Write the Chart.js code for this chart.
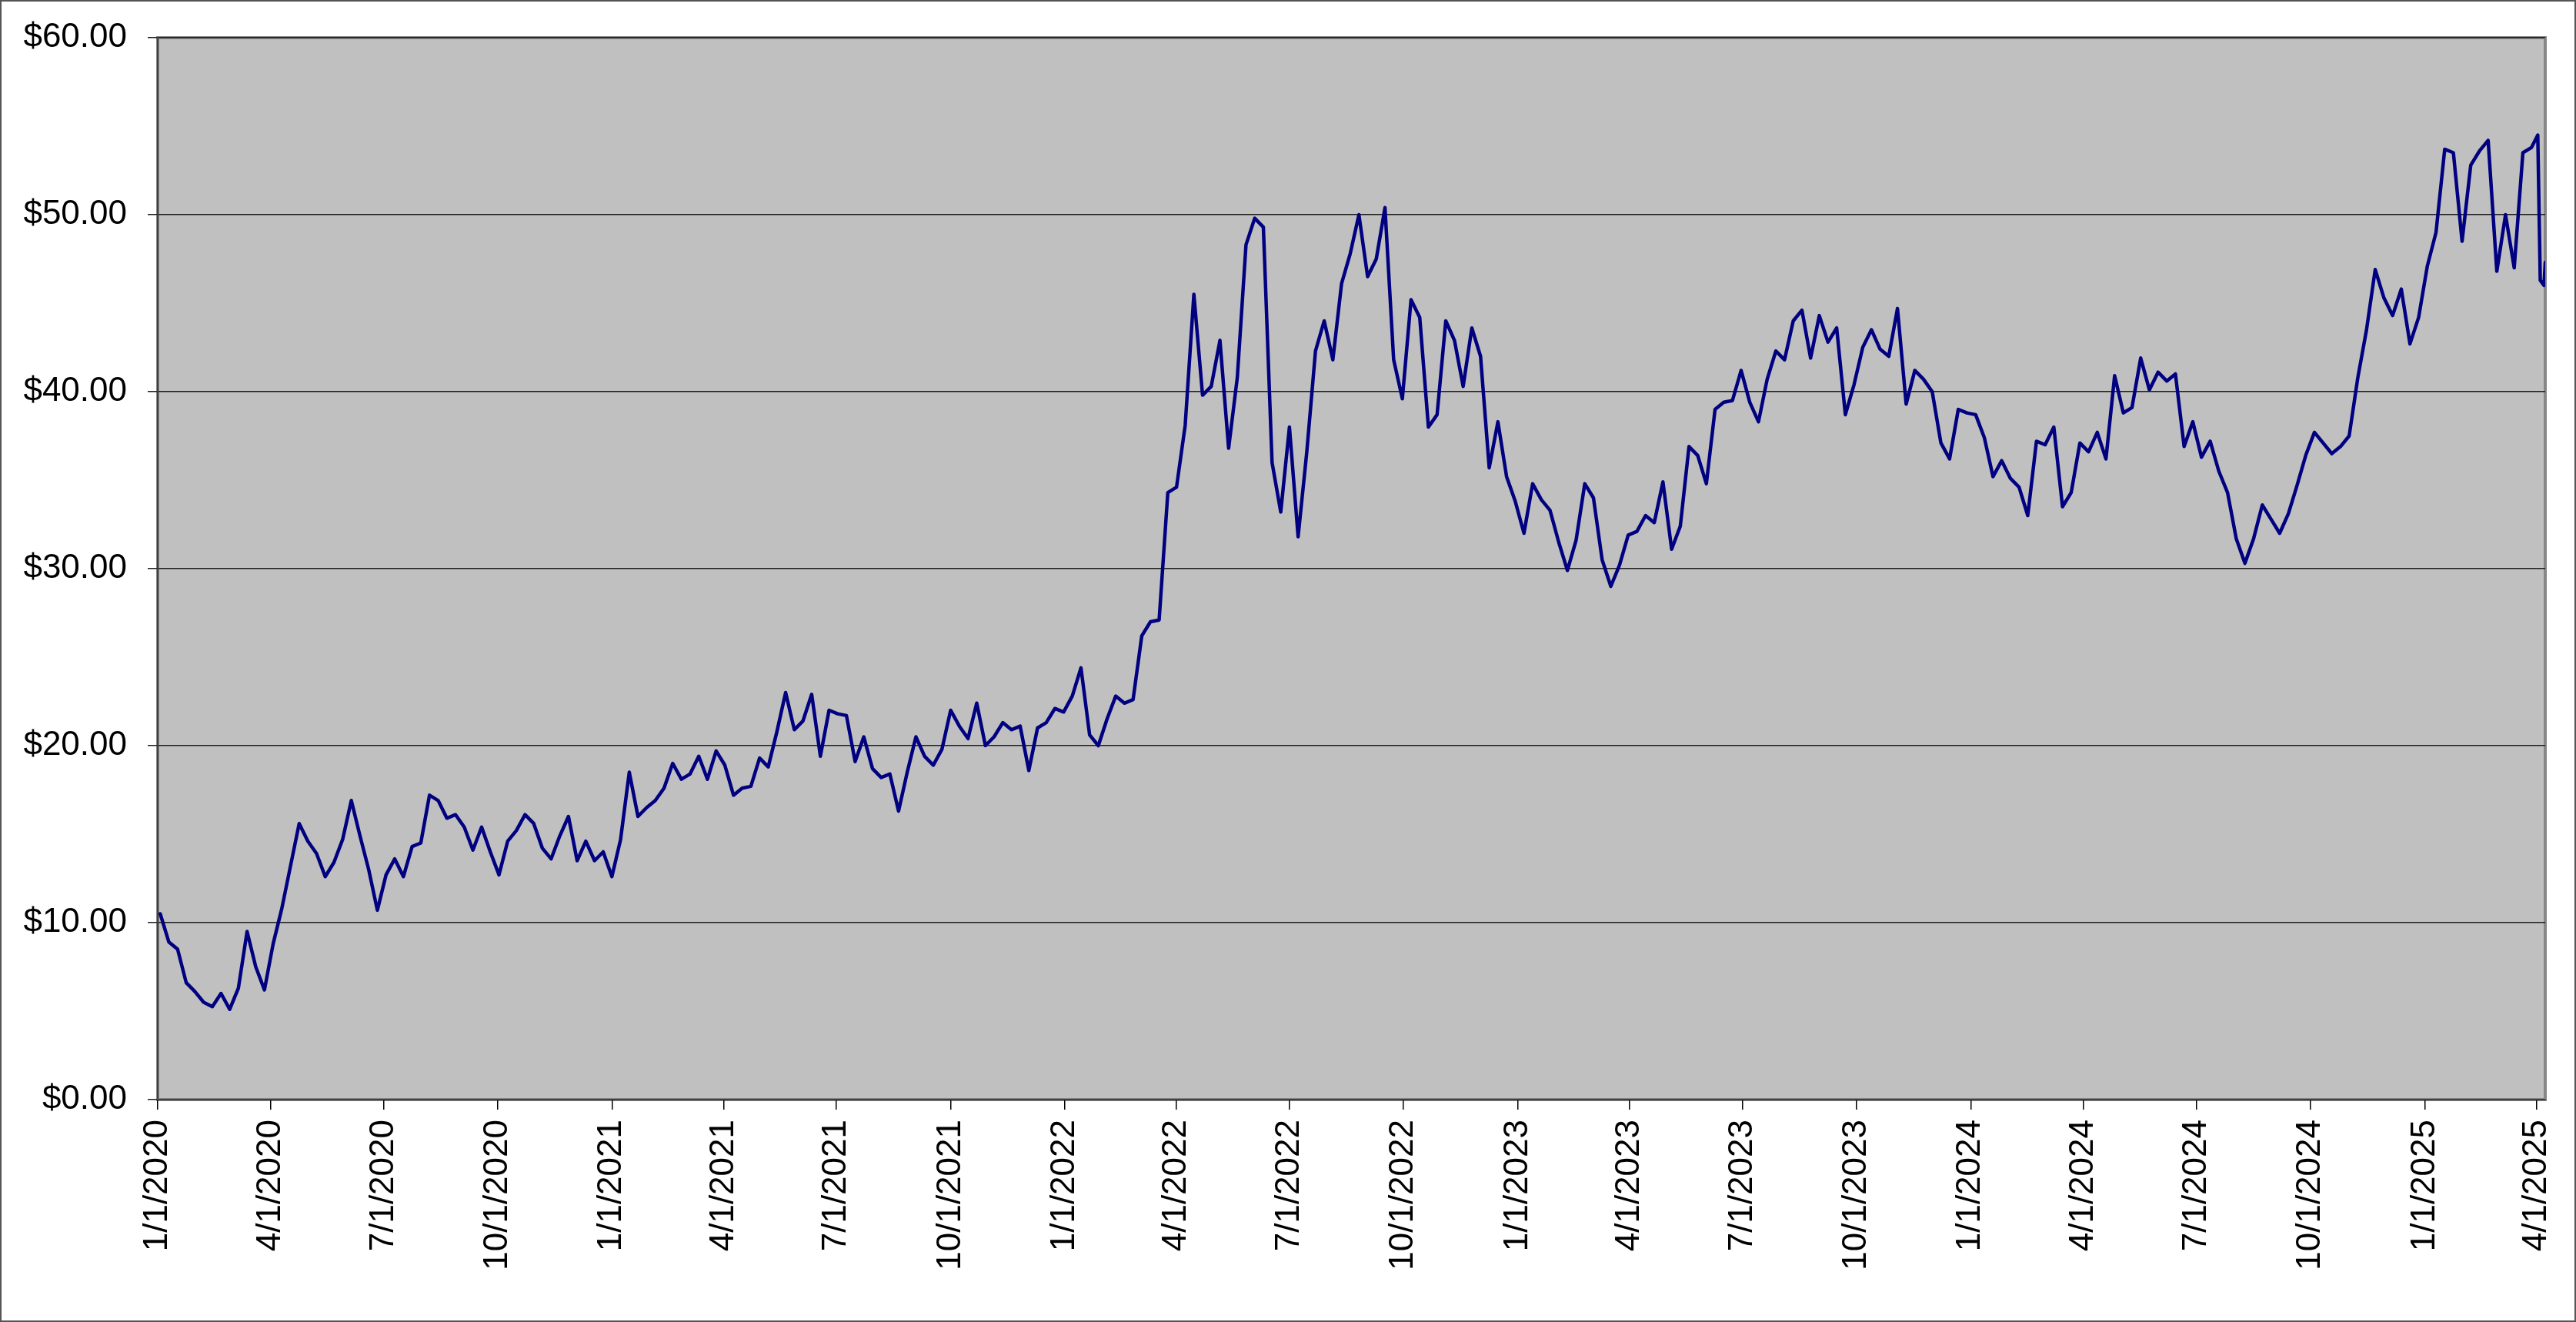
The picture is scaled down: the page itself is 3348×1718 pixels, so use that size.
<!DOCTYPE html>
<html lang="en">
<head>
<meta charset="UTF-8">
<title>Price history 2020-2025</title>
<script src="https://cdn.jsdelivr.net/npm/chart.js"></script>
<style>
  html, body { margin: 0; padding: 0; background: #fff; }
  #wrap { position: relative; width: 3348px; height: 1718px; }
</style>
</head>
<body>
<div id="wrap"><canvas id="priceChart"></canvas></div>
<script>
// weekly closes (one per Friday, first one on 1/3/2020)
const firstFriday = '2020-01-03';

const closes2020 = [10.5, 8.9, 8.5, 6.6, 6.1, 5.5, 5.25, 6.0, 5.1, 6.3,
  9.5, 7.5, 6.2, 8.8, 10.8, 13.2, 15.6, 14.6, 13.9, 12.6,
  13.4, 14.7, 16.9, 14.9, 13.0, 10.7, 12.7, 13.6, 12.6, 14.3,
  14.5, 17.2, 16.9, 15.9, 16.1, 15.4, 14.1, 15.4, 14.0, 12.7,
  14.6, 15.2, 16.1, 15.6, 14.2, 13.6, 14.9, 16.0, 13.5, 14.6,
  13.5, 14.0];

const closes2021 = [12.6, 14.7, 18.5, 16.0, 16.5, 16.9, 17.6, 19.0, 18.1, 18.4,
  19.4, 18.1, 19.7, 18.9, 17.2, 17.6, 17.7, 19.3, 18.8, 20.8,
  23.0, 20.9, 21.4, 22.9, 19.4, 22.0, 21.8, 21.7, 19.1, 20.5,
  18.7, 18.2, 18.4, 16.3, 18.5, 20.5, 19.4, 18.9, 19.8, 22.0,
  21.1, 20.4, 22.4, 20.0, 20.5, 21.3, 20.9, 21.1, 18.6, 21.0,
  21.3, 22.1, 21.9];

const closes2022 = [22.8, 24.4, 20.6, 20.0, 21.5, 22.8, 22.4, 22.6, 26.2, 27.0,
  27.1, 34.3, 34.6, 38.1, 45.5, 39.8, 40.3, 42.9, 36.8, 40.8,
  48.3, 49.8, 49.3, 36.0, 33.2, 38.0, 31.8, 36.6, 42.3, 44.0,
  41.8, 46.1, 47.8, 50.0, 46.5, 47.5, 50.4, 41.8, 39.6, 45.2,
  44.2, 38.0, 38.7, 44.0, 42.9, 40.3, 43.6, 42.0, 35.7, 38.3,
  35.2, 33.8];

const closes2023 = [32.0, 34.8, 33.9, 33.3, 31.5, 29.9, 31.6, 34.8, 34.0, 30.5,
  29.0, 30.2, 31.9, 32.1, 33.0, 32.6, 34.9, 31.1, 32.4, 36.9,
  36.4, 34.8, 39.0, 39.4, 39.5, 41.2, 39.4, 38.3, 40.7, 42.3,
  41.8, 44.0, 44.6, 41.9, 44.3, 42.8, 43.6, 38.7, 40.4, 42.5,
  43.5, 42.4, 42.0, 44.7, 39.3, 41.2, 40.7, 40.0, 37.1, 36.2,
  39.0, 38.8];

const closes2024 = [38.7, 37.4, 35.2, 36.1, 35.1, 34.6, 33.0, 37.2, 37.0, 38.0,
  33.5, 34.3, 37.1, 36.6, 37.7, 36.2, 40.9, 38.8, 39.1, 41.9,
  40.1, 41.1, 40.6, 41.0, 36.9, 38.3, 36.3, 37.2, 35.5, 34.3,
  31.7, 30.3, 31.7, 33.6, 32.8, 32.0, 33.1, 34.7, 36.4, 37.7,
  37.1, 36.5, 36.9, 37.5, 40.8, 43.5, 46.9, 45.3, 44.3, 45.8,
  42.7, 44.2];

const closes2025 = [47.1, 49.0, 53.7, 53.5, 48.5, 52.8, 53.6, 54.2, 46.8, 50.0,
  47.0, 53.5, 53.8];

// last few sessions, read day by day
const lastDays = ['2025-04-02', '2025-04-04', '2025-04-07', '2025-04-08'];
const lastCloses = [54.5, 46.3, 46.0, 47.3];

const quarterLabels = ['1/1/2020', '4/1/2020', '7/1/2020', '10/1/2020',
  '1/1/2021', '4/1/2021', '7/1/2021', '10/1/2021',
  '1/1/2022', '4/1/2022', '7/1/2022', '10/1/2022',
  '1/1/2023', '4/1/2023', '7/1/2023', '10/1/2023',
  '1/1/2024', '4/1/2024', '7/1/2024', '10/1/2024',
  '1/1/2025', '4/1/2025'];
const priceTicks = [0, 10, 20, 30, 40, 50, 60];

const DAY = 86400000;
function mdyToTime(s) {
  const [m, d, y] = s.split('/').map(Number);
  return Date.UTC(y, m - 1, d);
}

// build the points
const weekly = [].concat(closes2020, closes2021, closes2022, closes2023, closes2024, closes2025);
const start = Date.parse(firstFriday);
const points = weekly.map((v, i) => ({ x: start + i * 7 * DAY, y: v }));
lastDays.forEach((d, i) => points.push({ x: Date.parse(d), y: lastCloses[i] }));

// grey plot area, frame and outer border like the spreadsheet chart
const plotFrame = {
  id: 'plotFrame',
  beforeDraw(chart) {
    const { ctx, chartArea: a } = chart;
    ctx.save();
    ctx.fillStyle = '#ffffff';
    ctx.fillRect(0, 0, chart.width, chart.height);
    ctx.fillStyle = '#c0c0c0';
    ctx.fillRect(a.left, a.top, a.right - a.left, a.bottom - a.top);
    ctx.strokeStyle = '#878787';
    ctx.lineWidth = 4;
    ctx.strokeRect(a.left, a.top, a.right - a.left, a.bottom - a.top);
    ctx.restore();
  },
  afterDraw(chart) {
    const ctx = chart.ctx;
    ctx.save();
    ctx.strokeStyle = '#555555';
    ctx.lineWidth = 2;
    ctx.strokeRect(1, 1, chart.width - 2, chart.height - 2);
    ctx.restore();
  }
};

Chart.defaults.font.family = '"Liberation Sans", Arial, sans-serif';
Chart.defaults.font.size = 44;
Chart.defaults.color = '#000';

const ctx = document.getElementById('priceChart').getContext('2d');
new Chart(ctx, {
  type: 'line',
  data: {
    datasets: [{
      data: points,
      borderColor: '#000080',
      borderWidth: 4.5,
      borderJoinStyle: 'round',
      borderCapStyle: 'round',
      pointRadius: 0,
      tension: 0,
      fill: false
    }]
  },
  options: {
    responsive: true,
    maintainAspectRatio: false,
    animation: false,
    layout: { padding: { top: 49, right: 40, bottom: 0, left: 0 } },
    plugins: {
      legend: { display: false },
      tooltip: { enabled: false }
    },
    scales: {
      x: {
        type: 'linear',
        min: mdyToTime('1/1/2020'),
        max: Date.parse('2025-04-08'),
        afterBuildTicks: scale => {
          scale.ticks = quarterLabels.map(l => ({ value: mdyToTime(l) }));
        },
        afterFit: scale => {
          scale.height = 289;
          scale.paddingLeft = 0;
          scale.paddingRight = 0;
        },
        ticks: {
          autoSkip: false,
          maxRotation: 90,
          minRotation: 90,
          padding: 13,
          callback: (v, i) => quarterLabels[i]
        },
        grid: { drawOnChartArea: false, tickLength: 13, color: '#000', lineWidth: 1.5 },
        border: { color: '#404040', width: 2 }
      },
      y: {
        min: 0,
        max: 60,
        afterBuildTicks: scale => {
          scale.ticks = priceTicks.map(v => ({ value: v }));
        },
        afterFit: scale => {
          scale.width = 205;
          scale.paddingTop = 0;
          scale.paddingBottom = 0;
        },
        ticks: {
          padding: 27,
          callback: v => '$' + v.toFixed(2)
        },
        grid: { color: '#1e1e1e', lineWidth: 1.5, tickLength: 13 },
        border: { color: '#404040', width: 2 }
      }
    }
  },
  plugins: [plotFrame]
});
</script>
</body>
</html>
